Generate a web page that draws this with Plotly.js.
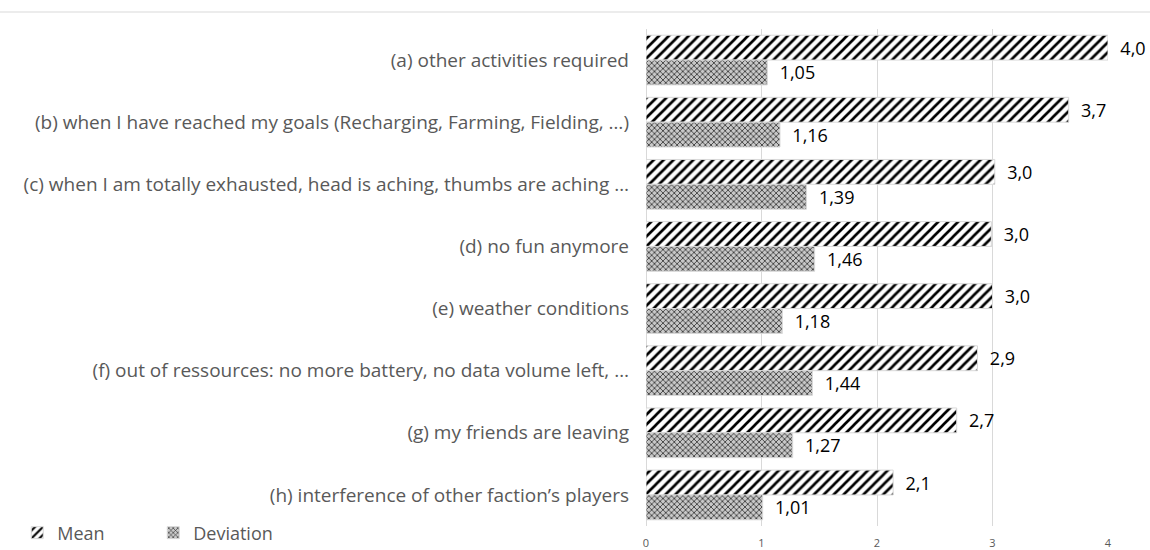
<!DOCTYPE html>
<html>
<head>
<meta charset="utf-8">
<script src="https://cdn.plot.ly/plotly-3.0.1.min.js"></script>
<style>html,body{margin:0;padding:0;background:#fff;}#chart{width:1150px;height:550px;}</style>
</head>
<body>
<div id="chart"></div>
<script>
var categories = [
  "(a) other activities required",
  "(b) when I have reached my goals (Recharging, Farming, Fielding, \u2026)",
  "(c) when I am totally exhausted, head is aching, thumbs are aching \u2026",
  "(d) no fun anymore",
  "(e) weather conditions",
  "(f) out of ressources: no more battery, no data volume left, \u2026",
  "(g) my friends are leaving",
  "(h) interference of other faction\u2019s players"
];
var meanValues = [4.0, 3.66, 3.02, 2.99, 3.0, 2.87, 2.69, 2.14];
var meanLabels = ["4,0", "3,7", "3,0", "3,0", "3,0", "2,9", "2,7", "2,1"];
var devValues = [1.05, 1.16, 1.39, 1.46, 1.18, 1.44, 1.27, 1.01];
var devLabels = ["1,05", "1,16", "1,39", "1,46", "1,18", "1,44", "1,27", "1,01"];
var xTicks = [0, 1, 2, 3, 4];

var FONT = "Open Sans, Noto Sans, sans-serif";
var PAD = "\u00a0\u00a0";

var traces = [
  {
    type: "bar", orientation: "h", name: "Mean",
    y: categories, x: meanValues, text: meanLabels.map(function (s) { return PAD + s; }),
    textposition: "outside", cliponaxis: false, constraintext: "none",
    textfont: {family: FONT, size: 18, color: "#000"},
    marker: {color: "#fff", line: {color: "#d9d9d9", width: 1},
      pattern: {shape: "/", fgcolor: "#000", bgcolor: "#fff", size: 7, solidity: 0.38}},
    hoverinfo: "skip"
  },
  {
    type: "bar", orientation: "h", name: "Deviation",
    y: categories, x: devValues, text: devLabels.map(function (s) { return PAD + s; }),
    textposition: "outside", cliponaxis: false, constraintext: "none",
    textfont: {family: FONT, size: 18, color: "#000"},
    marker: {color: "#ccc", line: {color: "#d9d9d9", width: 1},
      pattern: {shape: "x", fgcolor: "#2a2a2a", bgcolor: "#c8c8c8", size: 4, solidity: 0.35}},
    hoverinfo: "skip"
  }
];

var plotW = 1108 - 646, plotH = 526 - 29;

var layout = {
  width: 1150, height: 550,
  margin: {l: 646, r: 42, t: 29, b: 24, autoexpand: false},
  paper_bgcolor: "#fff", plot_bgcolor: "#fff",
  barmode: "group", bargap: 0.2, bargroupgap: 0,
  font: {family: FONT, color: "#595959"},
  showlegend: true,
  legend: {
    orientation: "h", xref: "container", yref: "container",
    x: 0.015, y: 0.031, xanchor: "left", yanchor: "middle",
    font: {family: FONT, size: 18, color: "#595959"},
    entrywidth: 91, itemwidth: 30, traceorder: "normal"
  },
  xaxis: {
    range: [0, 4], tickvals: xTicks, ticktext: xTicks.map(String),
    showgrid: true, gridcolor: "#d9d9d9", gridwidth: 1,
    zeroline: true, zerolinecolor: "#d9d9d9", zerolinewidth: 1,
    showline: false, ticks: "",
    ticklabelstandoff: 9,
    tickfont: {family: FONT, size: 11, color: "#595959"},
    fixedrange: true
  },
  yaxis: {
    autorange: "reversed", type: "category",
    showgrid: false, zeroline: false, showline: false, ticks: "",
    ticklabelstandoff: 16,
    tickfont: {family: FONT, size: 19, color: "#595959"},
    automargin: false, fixedrange: true
  },
  shapes: [{
    type: "line", xref: "paper", yref: "paper",
    x0: -646 / plotW, x1: (1150 - 646) / plotW,
    y0: 1 + 17 / plotH, y1: 1 + 17 / plotH,
    line: {color: "#d9d9d9", width: 1}
  }]
};

Plotly.newPlot("chart", traces, layout, {displayModeBar: false, staticPlot: true});
</script>
</body>
</html>
